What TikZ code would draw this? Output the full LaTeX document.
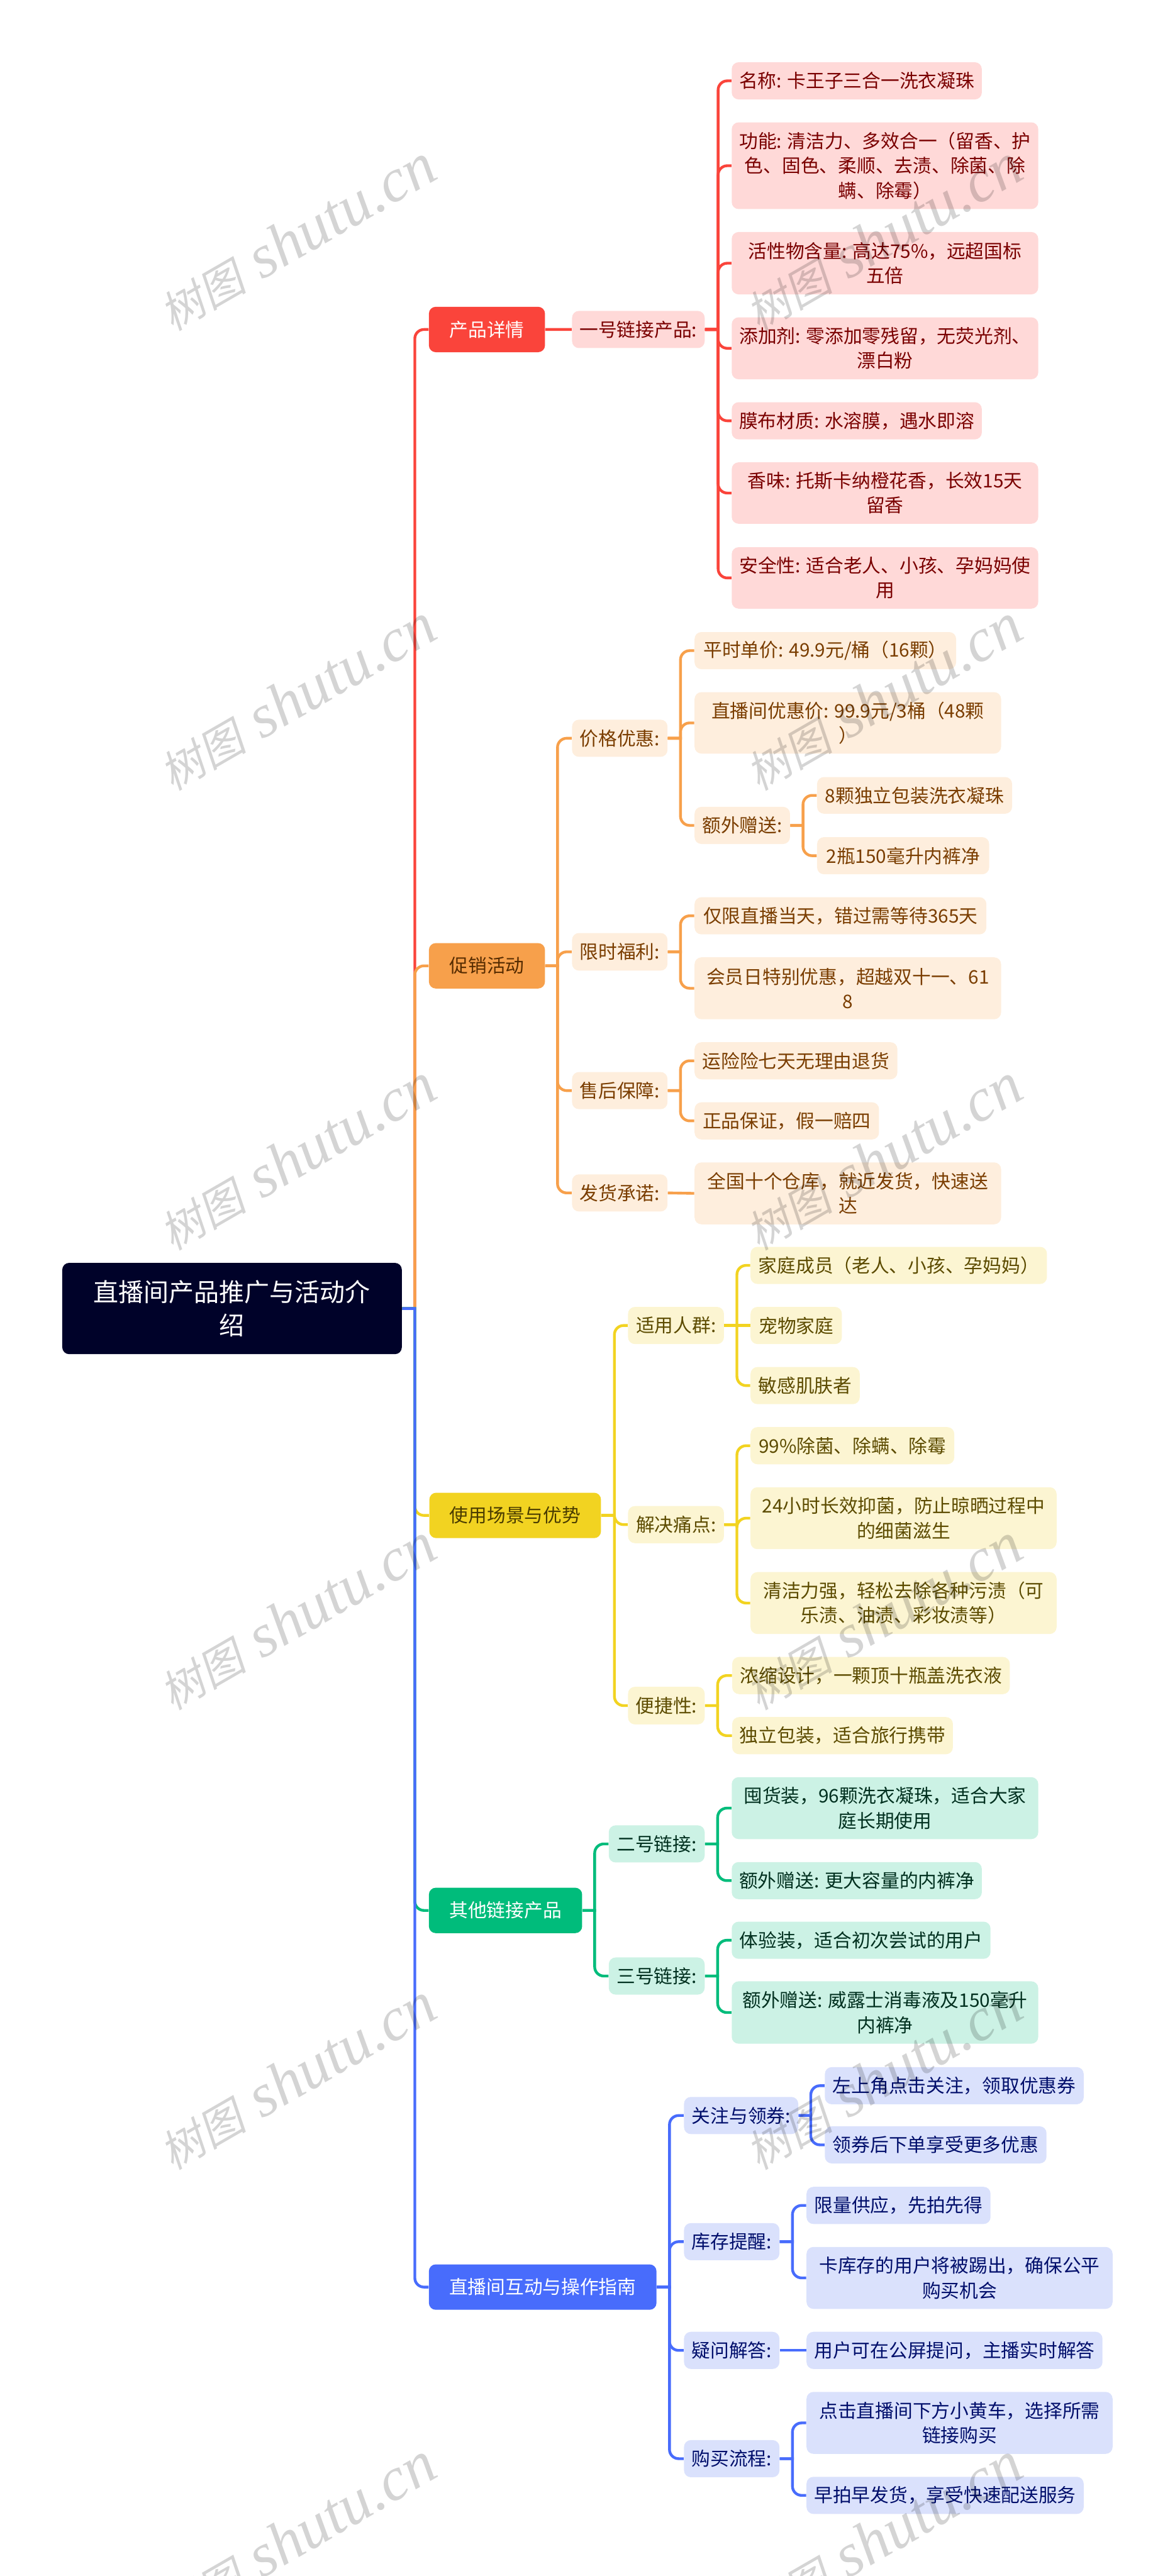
\documentclass[tikz,border=0pt]{standalone}
\usepackage{fontspec}
\setmainfont{Noto Sans CJK SC}
\newfontfamily\wmcjk[FakeSlant=0.2]{Noto Sans CJK SC}
\newfontfamily\wmlatin{Liberation Serif}

\definecolor{baseR}{HTML}{FA443B}
\definecolor{lightR}{HTML}{FFD9D8}
\definecolor{textR}{HTML}{7A0000}
\definecolor{baseO}{HTML}{F7A04B}
\definecolor{lightO}{HTML}{FEEEDD}
\definecolor{textO}{HTML}{7A3D00}
\definecolor{baseY}{HTML}{F2D321}
\definecolor{lightY}{HTML}{FCF5D2}
\definecolor{textY}{HTML}{5C4B00}
\definecolor{baseG}{HTML}{00BC7B}
\definecolor{lightG}{HTML}{CCF2E5}
\definecolor{textG}{HTML}{00301F}
\definecolor{baseB}{HTML}{486CFC}
\definecolor{lightB}{HTML}{DAE1FC}
\definecolor{textB}{HTML}{000E6B}
\definecolor{rootbg}{HTML}{000229}

\tikzset{
    mapbox/.style 2 args={anchor=north west, rounded corners=0.15cm, inner sep=0pt, align=center, minimum width=#1cm, minimum height=#2cm, font=\fontsize{11.6}{15.35}\selectfont},
    leafR/.style 2 args={mapbox={#1}{#2}, fill=lightR, text=textR},
    leafO/.style 2 args={mapbox={#1}{#2}, fill=lightO, text=textO},
    leafY/.style 2 args={mapbox={#1}{#2}, fill=lightY, text=textY},
    leafG/.style 2 args={mapbox={#1}{#2}, fill=lightG, text=textG},
    leafB/.style 2 args={mapbox={#1}{#2}, fill=lightB, text=textB},
    lineR/.style={draw=baseR, line width=0.06cm},
    lineO/.style={draw=baseO, line width=0.06cm},
    lineY/.style={draw=baseY, line width=0.06cm},
    lineG/.style={draw=baseG, line width=0.06cm},
    lineB/.style={draw=baseB, line width=0.06cm},
    elbow/.style={rounded corners=0.2cm},
    wmark/.style={rotate=30, text=black, opacity=0.17, inner sep=0pt}
}

\begin{document}
\begin{tikzpicture}
        \useasboundingbox (0,0) rectangle (25.6,-56.15);

        % Define Variables
        \def\wmL{6.47}
        \def\wmR{19.25}
        \def\wmText{{\wmcjk\fontsize{27}{27}\selectfont 树图}\hspace{0.35cm}{\wmlatin\itshape\fontsize{38}{38}\selectfont shutu.cn}}

        % Trunk Lines
        \coordinate (t-main) at (9.04,0);
        \coordinate (t-r) at (15.65,0);
        \coordinate (t-o1) at (12.15,0);
        \coordinate (t-o2) at (14.83,0);
        \coordinate (t-o3) at (17.50,0);
        \coordinate (t-y1) at (13.39,0);
        \coordinate (t-y2) at (16.06,0);
        \coordinate (t-y3) at (15.64,0);
        \coordinate (t-g1) at (12.96,0);
        \coordinate (t-g2) at (15.64,0);
        \coordinate (t-b1) at (14.59,0);
        \coordinate (t-b2) at (17.67,0);
        \coordinate (t-b3) at (17.27,0);

        % Root
        \node[mapbox={7.40}{1.99}, fill=rootbg, text=white, font=\fontsize{15.6}{20.8}\selectfont] (root) at (1.35,-27.52) {直播间产品推广与活动介\\绍};

        % Product Details
        \node[mapbox={2.53}{0.99}, fill=baseR, text=white] (r-head) at (9.34,-6.68) {产品详情};
        \node[leafR={2.89}{0.81}] (r-link) at (12.46,-6.77) {一号链接产品:};
        \node[leafR={5.45}{0.81}] (r-name) at (15.94,-1.35) {名称: 卡王子三合一洗衣凝珠};
        \node[leafR={6.68}{1.89}] (r-func) at (15.94,-2.66) {功能: 清洁力、多效合一（留香、护\\色、固色、柔顺、去渍、除菌、除\\螨、除霉）};
        \node[leafR={6.68}{1.36}] (r-active) at (15.94,-5.05) {活性物含量: 高达75\%，远超国标\\五倍};
        \node[leafR={6.68}{1.35}] (r-add) at (15.94,-6.91) {添加剂: 零添加零残留，无荧光剂、\\漂白粉};
        \node[leafR={5.45}{0.81}] (r-film) at (15.94,-8.76) {膜布材质: 水溶膜，遇水即溶};
        \node[leafR={6.68}{1.34}] (r-scent) at (15.94,-10.07) {香味: 托斯卡纳橙花香，长效15天\\留香};
        \node[leafR={6.68}{1.34}] (r-safe) at (15.94,-11.92) {安全性: 适合老人、小孩、孕妈妈使\\用};

        % Promotions
        \node[mapbox={2.53}{0.99}, fill=baseO, text=textO!70!black] (o-head) at (9.34,-20.55) {促销活动};
        \node[leafO={2.08}{0.81}] (o-price) at (12.46,-15.68) {价格优惠:};
        \node[leafO={5.70}{0.81}] (o-usual) at (15.13,-13.77) {平时单价: 49.9元/桶（16颗）};
        \node[leafO={6.68}{1.34}] (o-live) at (15.13,-15.08) {直播间优惠价: 99.9元/3桶（48颗\\）};
        \node[leafO={2.08}{0.81}] (o-gift) at (15.13,-17.58) {额外赠送:};
        \node[leafO={4.25}{0.80}] (o-gift1) at (17.80,-16.93) {8颗独立包装洗衣凝珠};
        \node[leafO={3.75}{0.81}] (o-gift2) at (17.80,-18.24) {2瓶150毫升内裤净};
        \node[leafO={2.08}{0.82}] (o-limit) at (12.46,-20.33) {限时福利:};
        \node[leafO={6.36}{0.81}] (o-today) at (15.13,-19.55) {仅限直播当天，错过需等待365天};
        \node[leafO={6.68}{1.35}] (o-member) at (15.13,-20.86) {会员日特别优惠，超越双十一、61\\8};
        \node[leafO={2.08}{0.81}] (o-after) at (12.46,-23.36) {售后保障:};
        \node[leafO={4.42}{0.81}] (o-return) at (15.13,-22.71) {运险险七天无理由退货};
        \node[leafO={4.02}{0.81}] (o-real) at (15.13,-24.02) {正品保证，假一赔四};
        \node[leafO={2.08}{0.81}] (o-ship) at (12.46,-25.59) {发货承诺:};
        \node[leafO={6.68}{1.35}] (o-depot) at (15.13,-25.33) {全国十个仓库，就近发货，快速送\\达};

        % Usage
        \node[mapbox={3.74}{0.99}, fill=baseY, text=textY!80!black] (y-head) at (9.35,-32.53) {使用场景与优势};
        \node[leafY={2.09}{0.81}] (y-people) at (13.68,-28.48) {适用人群:};
        \node[leafY={6.46}{0.81}] (y-family) at (16.35,-27.17) {家庭成员（老人、小孩、孕妈妈）};
        \node[leafY={1.99}{0.81}] (y-pet) at (16.35,-28.48) {宠物家庭};
        \node[leafY={2.38}{0.81}] (y-skin) at (16.35,-29.79) {敏感肌肤者};
        \node[leafY={2.09}{0.81}] (y-pain) at (13.68,-32.82) {解决痛点:};
        \node[leafY={4.44}{0.81}] (y-germ) at (16.35,-31.10) {99\%除菌、除螨、除霉};
        \node[leafY={6.67}{1.35}] (y-day) at (16.35,-32.41) {24小时长效抑菌，防止晾晒过程中\\的细菌滋生};
        \node[leafY={6.67}{1.35}] (y-clean) at (16.35,-34.26) {清洁力强，轻松去除各种污渍（可\\乐渍、油渍、彩妆渍等）};
        \node[leafY={1.67}{0.82}] (y-easy) at (13.68,-36.76) {便捷性:};
        \node[leafY={6.05}{0.81}] (y-dense) at (15.95,-36.11) {浓缩设计，一颗顶十瓶盖洗衣液};
        \node[leafY={4.81}{0.81}] (y-pack) at (15.95,-37.42) {独立包装，适合旅行携带};

        % Other Links
        \node[mapbox={3.34}{0.99}, fill=baseG, text=white] (g-head) at (9.34,-41.14) {其他链接产品};
        \node[leafG={2.09}{0.81}] (g-two) at (13.26,-39.78) {二号链接:};
        \node[leafG={6.68}{1.35}] (g-bulk) at (15.94,-38.73) {囤货装，96颗洗衣凝珠，适合大家\\庭长期使用};
        \node[leafG={5.45}{0.81}] (g-more) at (15.94,-40.58) {额外赠送: 更大容量的内裤净};
        \node[leafG={2.09}{0.81}] (g-three) at (13.26,-42.66) {三号链接:};
        \node[leafG={5.64}{0.81}] (g-trial) at (15.94,-41.88) {体验装，适合初次尝试的用户};
        \node[leafG={6.68}{1.36}] (g-extra) at (15.94,-43.18) {额外赠送: 威露士消毒液及150毫升\\内裤净};

        % Live Guide
        \node[mapbox={4.96}{0.99}, fill=baseB, text=white] (b-head) at (9.34,-49.35) {直播间互动与操作指南};
        \node[leafB={2.49}{0.81}] (b-follow) at (14.90,-45.70) {关注与领券:};
        \node[leafB={5.64}{0.81}] (b-left) at (17.97,-45.05) {左上角点击关注，领取优惠券};
        \node[leafB={4.83}{0.81}] (b-after) at (17.97,-46.34) {领券后下单享受更多优惠};
        \node[leafB={2.08}{0.81}] (b-stock) at (14.90,-48.45) {库存提醒:};
        \node[leafB={4.01}{0.81}] (b-short) at (17.57,-47.66) {限量供应，先拍先得};
        \node[leafB={6.67}{1.35}] (b-kick) at (17.57,-48.97) {卡库存的用户将被踢出，确保公平\\购买机会};
        \node[leafB={2.08}{0.81}] (b-ask) at (14.90,-50.82) {疑问解答:};
        \node[leafB={6.45}{0.81}] (b-screen) at (17.57,-50.82) {用户可在公屏提问，主播实时解答};
        \node[leafB={2.08}{0.81}] (b-buy) at (14.90,-53.18) {购买流程:};
        \node[leafB={6.67}{1.35}] (b-cart) at (17.57,-52.13) {点击直播间下方小黄车，选择所需\\链接购买};
        \node[leafB={6.04}{0.81}] (b-early) at (17.57,-53.98) {早拍早发货，享受快速配送服务};

        % Product Details Links
        \draw[lineR] (root.east) -- (t-main |- root.east) [elbow] -- (t-main |- r-head.west) -- (r-head.west);
        \draw[lineR] (r-head.east) -- (r-link.west);
        \draw[lineR] (r-link.east) -- (t-r |- r-link.east) [elbow] -- (t-r |- r-name.west) -- (r-name.west);
        \draw[lineR] (r-link.east) -- (t-r |- r-link.east) [elbow] -- (t-r |- r-func.west) -- (r-func.west);
        \draw[lineR] (r-link.east) -- (t-r |- r-link.east) [elbow] -- (t-r |- r-active.west) -- (r-active.west);
        \draw[lineR] (r-link.east) -- (t-r |- r-link.east) [elbow] -- (t-r |- r-add.west) -- (r-add.west);
        \draw[lineR] (r-link.east) -- (t-r |- r-link.east) [elbow] -- (t-r |- r-film.west) -- (r-film.west);
        \draw[lineR] (r-link.east) -- (t-r |- r-link.east) [elbow] -- (t-r |- r-scent.west) -- (r-scent.west);
        \draw[lineR] (r-link.east) -- (t-r |- r-link.east) [elbow] -- (t-r |- r-safe.west) -- (r-safe.west);

        % Promotions Links
        \draw[lineO] (root.east) -- (t-main |- root.east) [elbow] -- (t-main |- o-head.west) -- (o-head.west);
        \draw[lineO] (o-head.east) -- (t-o1 |- o-head.east) [elbow] -- (t-o1 |- o-price.west) -- (o-price.west);
        \draw[lineO] (o-head.east) -- (t-o1 |- o-head.east) [elbow] -- (t-o1 |- o-limit.west) -- (o-limit.west);
        \draw[lineO] (o-head.east) -- (t-o1 |- o-head.east) [elbow] -- (t-o1 |- o-after.west) -- (o-after.west);
        \draw[lineO] (o-head.east) -- (t-o1 |- o-head.east) [elbow] -- (t-o1 |- o-ship.west) -- (o-ship.west);
        \draw[lineO] (o-price.east) -- (t-o2 |- o-price.east) [elbow] -- (t-o2 |- o-usual.west) -- (o-usual.west);
        \draw[lineO] (o-price.east) -- (t-o2 |- o-price.east) [elbow] -- (t-o2 |- o-live.west) -- (o-live.west);
        \draw[lineO] (o-price.east) -- (t-o2 |- o-price.east) [elbow] -- (t-o2 |- o-gift.west) -- (o-gift.west);
        \draw[lineO] (o-gift.east) -- (t-o3 |- o-gift.east) [elbow] -- (t-o3 |- o-gift1.west) -- (o-gift1.west);
        \draw[lineO] (o-gift.east) -- (t-o3 |- o-gift.east) [elbow] -- (t-o3 |- o-gift2.west) -- (o-gift2.west);
        \draw[lineO] (o-limit.east) -- (t-o2 |- o-limit.east) [elbow] -- (t-o2 |- o-today.west) -- (o-today.west);
        \draw[lineO] (o-limit.east) -- (t-o2 |- o-limit.east) [elbow] -- (t-o2 |- o-member.west) -- (o-member.west);
        \draw[lineO] (o-after.east) -- (t-o2 |- o-after.east) [elbow] -- (t-o2 |- o-return.west) -- (o-return.west);
        \draw[lineO] (o-after.east) -- (t-o2 |- o-after.east) [elbow] -- (t-o2 |- o-real.west) -- (o-real.west);
        \draw[lineO] (o-ship.east) -- (o-depot.west);

        % Usage Links
        \draw[lineY] (root.east) -- (t-main |- root.east) [elbow] -- (t-main |- y-head.west) -- (y-head.west);
        \draw[lineY] (y-head.east) -- (t-y1 |- y-head.east) [elbow] -- (t-y1 |- y-people.west) -- (y-people.west);
        \draw[lineY] (y-head.east) -- (t-y1 |- y-head.east) [elbow] -- (t-y1 |- y-pain.west) -- (y-pain.west);
        \draw[lineY] (y-head.east) -- (t-y1 |- y-head.east) [elbow] -- (t-y1 |- y-easy.west) -- (y-easy.west);
        \draw[lineY] (y-people.east) -- (t-y2 |- y-people.east) [elbow] -- (t-y2 |- y-family.west) -- (y-family.west);
        \draw[lineY] (y-people.east) -- (y-pet.west);
        \draw[lineY] (y-people.east) -- (t-y2 |- y-people.east) [elbow] -- (t-y2 |- y-skin.west) -- (y-skin.west);
        \draw[lineY] (y-pain.east) -- (t-y2 |- y-pain.east) [elbow] -- (t-y2 |- y-germ.west) -- (y-germ.west);
        \draw[lineY] (y-pain.east) -- (t-y2 |- y-pain.east) [elbow] -- (t-y2 |- y-day.west) -- (y-day.west);
        \draw[lineY] (y-pain.east) -- (t-y2 |- y-pain.east) [elbow] -- (t-y2 |- y-clean.west) -- (y-clean.west);
        \draw[lineY] (y-easy.east) -- (t-y3 |- y-easy.east) [elbow] -- (t-y3 |- y-dense.west) -- (y-dense.west);
        \draw[lineY] (y-easy.east) -- (t-y3 |- y-easy.east) [elbow] -- (t-y3 |- y-pack.west) -- (y-pack.west);

        % Other Links Links
        \draw[lineG] (root.east) -- (t-main |- root.east) [elbow] -- (t-main |- g-head.west) -- (g-head.west);
        \draw[lineG] (g-head.east) -- (t-g1 |- g-head.east) [elbow] -- (t-g1 |- g-two.west) -- (g-two.west);
        \draw[lineG] (g-head.east) -- (t-g1 |- g-head.east) [elbow] -- (t-g1 |- g-three.west) -- (g-three.west);
        \draw[lineG] (g-two.east) -- (t-g2 |- g-two.east) [elbow] -- (t-g2 |- g-bulk.west) -- (g-bulk.west);
        \draw[lineG] (g-two.east) -- (t-g2 |- g-two.east) [elbow] -- (t-g2 |- g-more.west) -- (g-more.west);
        \draw[lineG] (g-three.east) -- (t-g2 |- g-three.east) [elbow] -- (t-g2 |- g-trial.west) -- (g-trial.west);
        \draw[lineG] (g-three.east) -- (t-g2 |- g-three.east) [elbow] -- (t-g2 |- g-extra.west) -- (g-extra.west);

        % Live Guide Links
        \draw[lineB] (root.east) -- (t-main |- root.east) [elbow] -- (t-main |- b-head.west) -- (b-head.west);
        \draw[lineB] (b-head.east) -- (t-b1 |- b-head.east) [elbow] -- (t-b1 |- b-follow.west) -- (b-follow.west);
        \draw[lineB] (b-head.east) -- (t-b1 |- b-head.east) [elbow] -- (t-b1 |- b-stock.west) -- (b-stock.west);
        \draw[lineB] (b-head.east) -- (t-b1 |- b-head.east) [elbow] -- (t-b1 |- b-ask.west) -- (b-ask.west);
        \draw[lineB] (b-head.east) -- (t-b1 |- b-head.east) [elbow] -- (t-b1 |- b-buy.west) -- (b-buy.west);
        \draw[lineB] (b-follow.east) -- (t-b2 |- b-follow.east) [elbow] -- (t-b2 |- b-left.west) -- (b-left.west);
        \draw[lineB] (b-follow.east) -- (t-b2 |- b-follow.east) [elbow] -- (t-b2 |- b-after.west) -- (b-after.west);
        \draw[lineB] (b-stock.east) -- (t-b3 |- b-stock.east) [elbow] -- (t-b3 |- b-short.west) -- (b-short.west);
        \draw[lineB] (b-stock.east) -- (t-b3 |- b-stock.east) [elbow] -- (t-b3 |- b-kick.west) -- (b-kick.west);
        \draw[lineB] (b-ask.east) -- (b-screen.west);
        \draw[lineB] (b-buy.east) -- (t-b3 |- b-buy.east) [elbow] -- (t-b3 |- b-cart.west) -- (b-cart.west);
        \draw[lineB] (b-buy.east) -- (t-b3 |- b-buy.east) [elbow] -- (t-b3 |- b-early.west) -- (b-early.west);

        % Watermarks
        \node[wmark] (wm-l1) at (\wmL,-5.18) {\wmText};
        \node[wmark] (wm-r1) at (\wmR,-5.18) {\wmText};
        \node[wmark] (wm-l2) at (\wmL,-15.20) {\wmText};
        \node[wmark] (wm-r2) at (\wmR,-15.20) {\wmText};
        \node[wmark] (wm-l3) at (\wmL,-25.22) {\wmText};
        \node[wmark] (wm-r3) at (\wmR,-25.22) {\wmText};
        \node[wmark] (wm-l4) at (\wmL,-35.24) {\wmText};
        \node[wmark] (wm-r4) at (\wmR,-35.24) {\wmText};
        \node[wmark] (wm-l5) at (\wmL,-45.26) {\wmText};
        \node[wmark] (wm-r5) at (\wmR,-45.26) {\wmText};
        \node[wmark] (wm-l6) at (\wmL,-55.28) {\wmText};
        \node[wmark] (wm-r6) at (\wmR,-55.28) {\wmText};

    \end{tikzpicture}
\end{document}
